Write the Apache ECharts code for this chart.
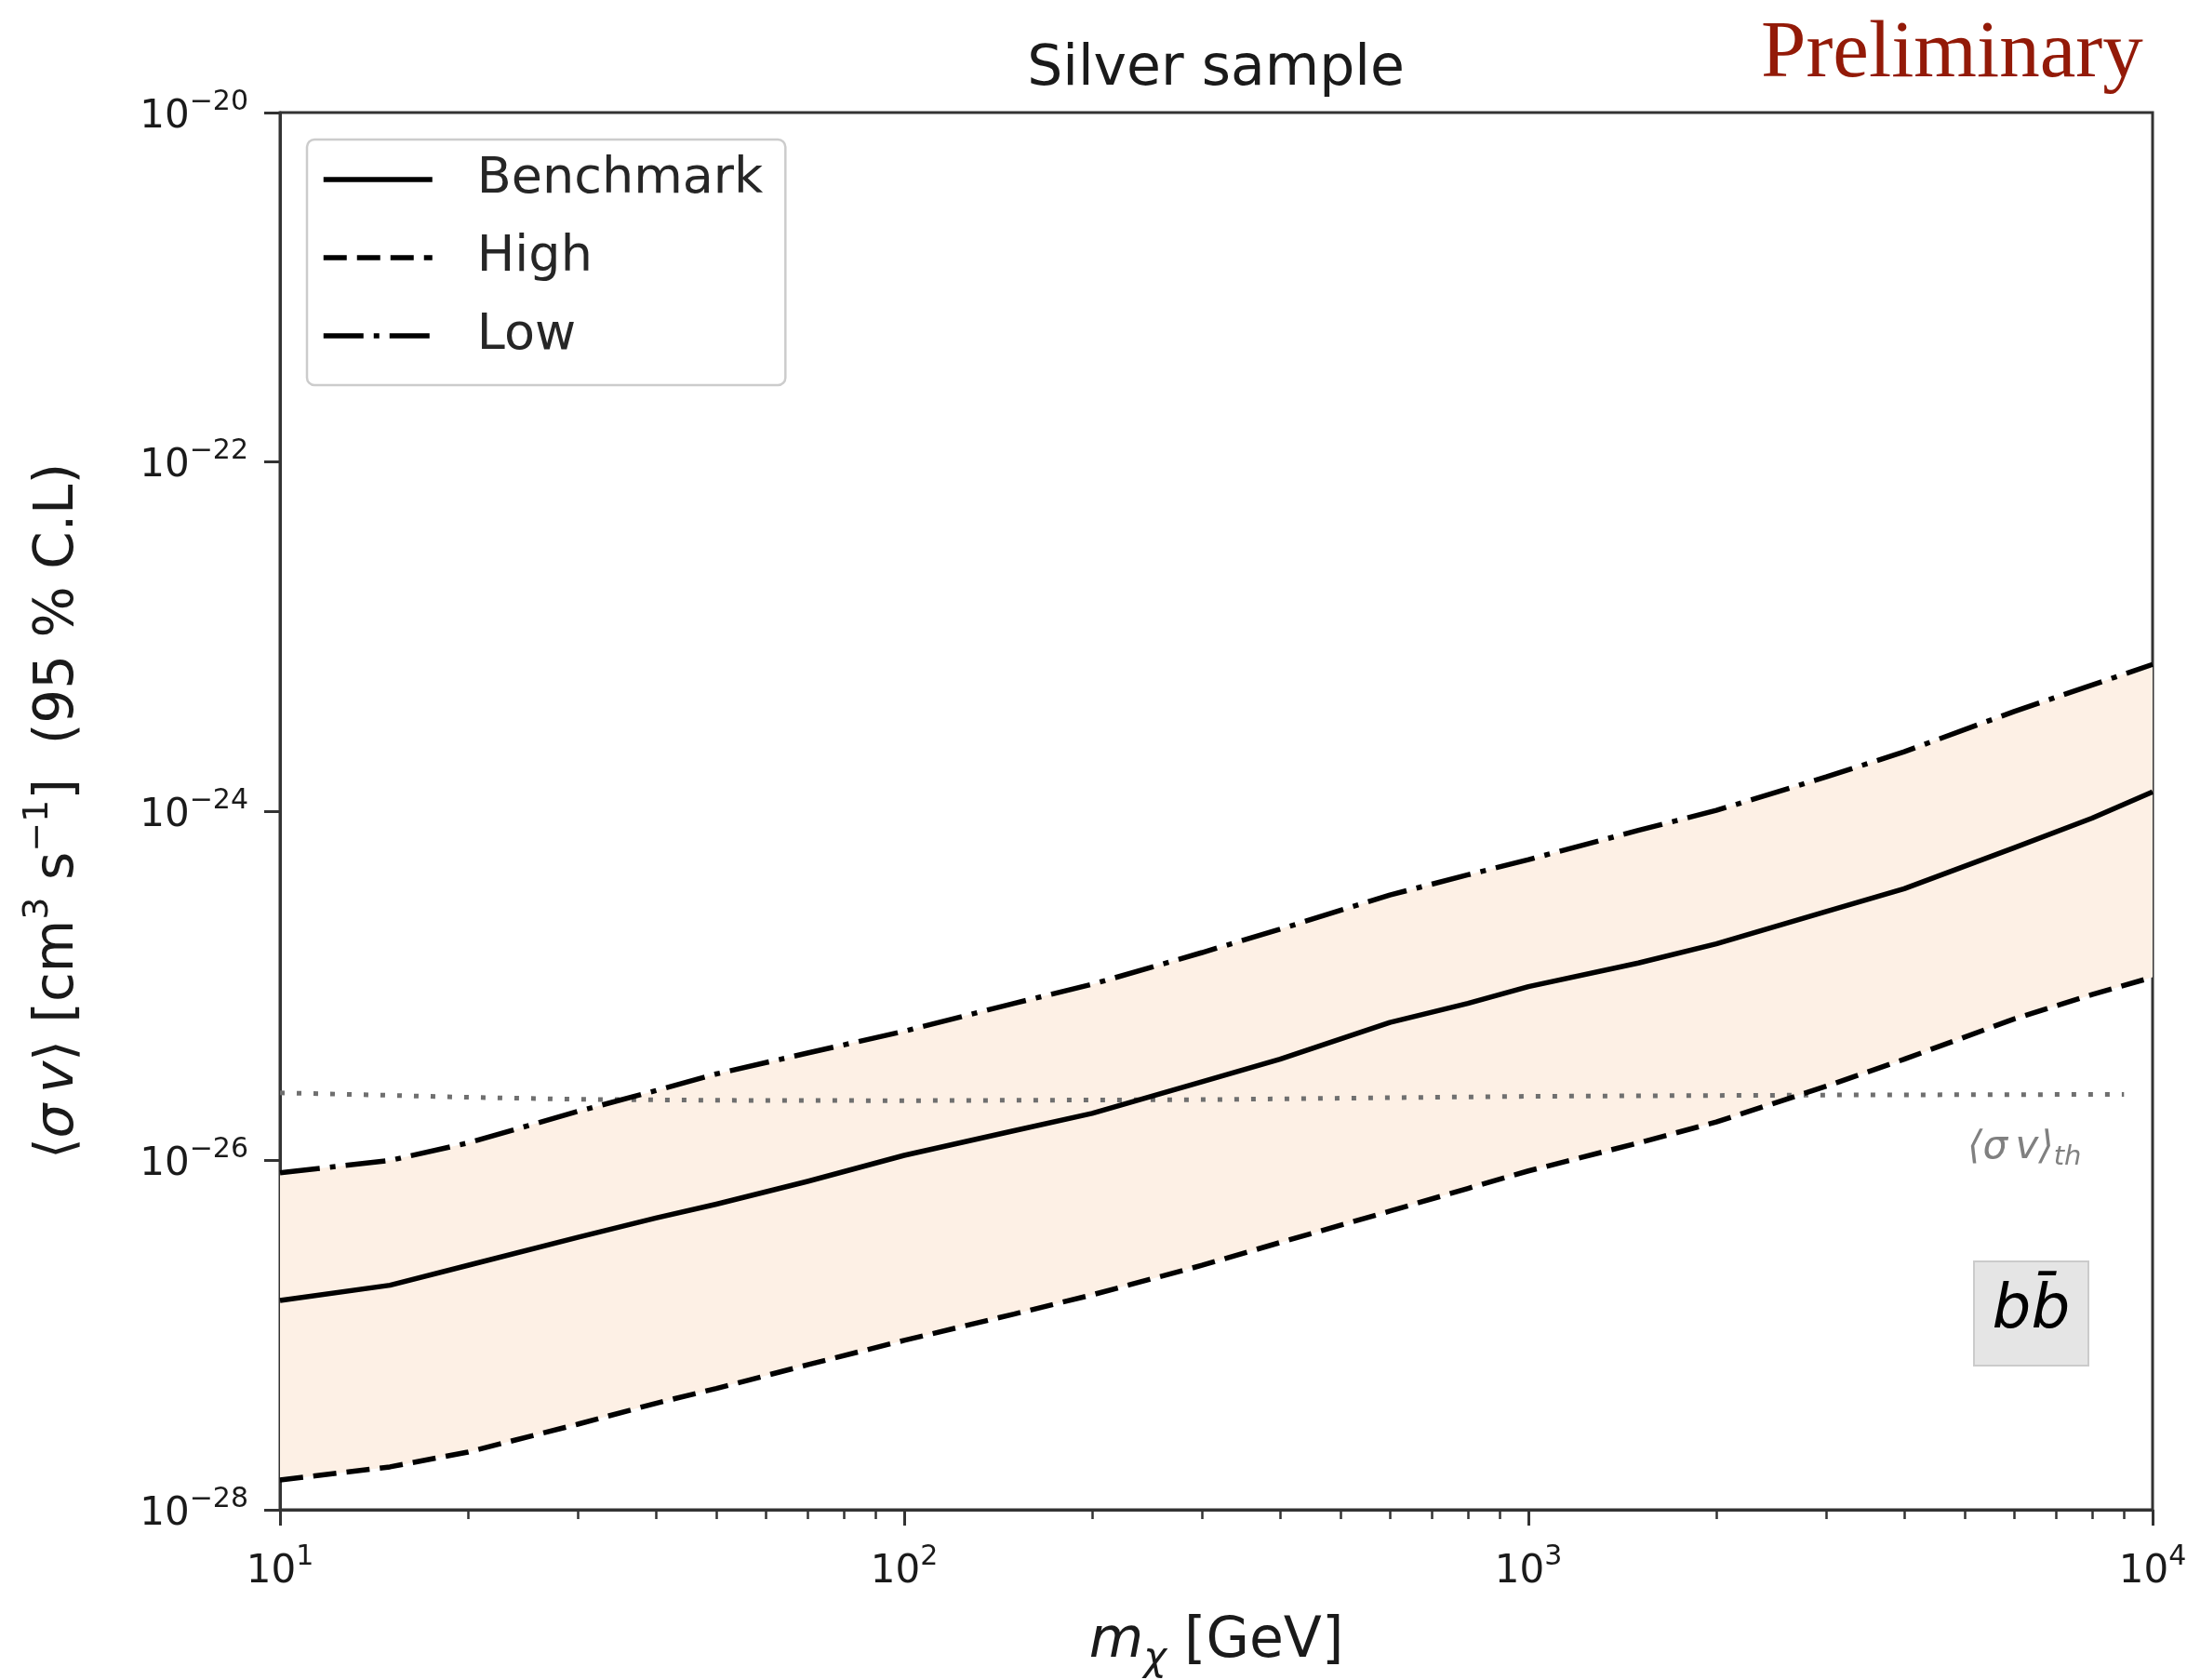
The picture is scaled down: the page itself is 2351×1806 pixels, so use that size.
<!DOCTYPE html>
<html>
<head>
<meta charset="utf-8">
<script src="https://cdn.jsdelivr.net/npm/echarts@6/dist/echarts.min.js"></script>
<style>
html, body { margin: 0; padding: 0; background: #ffffff; }
#chart { width: 2351px; height: 1806px; }
</style>
</head>
<body>
<div id="chart"></div>
<script>
// ---- Data ----
const masses = [10, 15, 20, 30, 40, 50, 70, 100, 150, 200, 300, 400, 600, 800, 1000, 1500, 2000, 3000, 4000, 6000, 8000, 10000];
const benchmark = [1.58e-27, 1.93e-27, 2.51e-27, 3.63e-27, 4.68e-27, 5.62e-27, 7.59e-27, 1.07e-26, 1.48e-26, 1.86e-26, 2.82e-26, 3.80e-26, 6.17e-26, 7.94e-26, 9.9e-26, 1.35e-25, 1.74e-25, 2.66e-25, 3.60e-25, 6.17e-25, 9.12e-25, 1.29e-24];
const high = [1.48e-28, 1.76e-28, 2.14e-28, 3.09e-28, 4.07e-28, 4.95e-28, 6.76e-28, 9.33e-28, 1.32e-27, 1.70e-27, 2.51e-27, 3.39e-27, 5.13e-27, 6.92e-27, 8.71e-27, 1.26e-26, 1.66e-26, 2.66e-26, 3.80e-26, 6.46e-26, 8.91e-26, 1.12e-25];
const low = [8.51e-27, 1.00e-26, 1.26e-26, 1.91e-26, 2.51e-26, 3.13e-26, 4.12e-26, 5.50e-26, 7.94e-26, 1.02e-25, 1.55e-25, 2.11e-25, 3.31e-25, 4.32e-25, 5.28e-25, 7.76e-25, 1.01e-24, 1.57e-24, 2.19e-24, 3.72e-24, 5.28e-24, 6.92e-24];
const thermalMasses = [10, 15, 20, 30, 50, 100, 300, 1000, 3000, 9000];
const thermalValues = [2.44e-26, 2.36e-26, 2.30e-26, 2.24e-26, 2.21e-26, 2.20e-26, 2.23e-26, 2.33e-26, 2.37e-26, 2.39e-26];
const seriesNames = ['Benchmark', 'High', 'Low'];
const xRange = [10, 10000];
const yExpRange = [-28, -20];   // decades shown on the y axis
const yExpStep = 2;             // labelled every 2 decades

// ---- Styling helpers ----
const FONT = '"DejaVu Sans", sans-serif';
const TXT = '#1a1a1a';
const AX = '#333333';
const LW = 5.5;

const tickRich = {
  b: { fontFamily: FONT, fontSize: 42, lineHeight: 52, verticalAlign: 'bottom', color: TXT },
  s: { fontFamily: FONT, fontSize: 30, verticalAlign: 'top', color: TXT }
};
function powLabel(exp) {
  return '{b|10}{s|' + (exp < 0 ? '\u2212' : '') + Math.abs(exp) + '}';
}
const pairs = (xs, ys) => xs.map((x, i) => [x, ys[i]]);

const chart = echarts.init(document.getElementById('chart'), null, { renderer: 'canvas', width: 2351, height: 1806 });

const option = {
  animation: false,
  backgroundColor: '#ffffff',
  grid: {
    left: 301, top: 121, width: 2013, height: 1502,
    show: true, borderColor: AX, borderWidth: 3, backgroundColor: 'transparent',
    containLabel: false, outerBoundsMode: 'none'
  },
  legend: {
    data: seriesNames,
    orient: 'vertical',
    left: 330, top: 150,
    itemWidth: 117, itemHeight: 4, itemGap: 22,
    padding: [12, 24, 22, 15],
    backgroundColor: '#ffffff',
    borderColor: '#cccccc', borderWidth: 2.5, borderRadius: 8,
    selectedMode: false,
    itemStyle: { opacity: 0 },
    lineStyle: { width: LW },
    textStyle: { fontFamily: FONT, fontSize: 54, color: '#262626', lineHeight: 62, padding: [0, 0, 0, 43] }
  },
  xAxis: {
    type: 'log', logBase: 10, min: xRange[0], max: xRange[1],
    position: 'bottom',
    axisLine: { show: true, lineStyle: { color: AX, width: 3 } },
    axisTick: { show: true, inside: false, length: 17, lineStyle: { color: AX, width: 3 } },
    minorTick: { show: true, splitNumber: 9, length: 10, lineStyle: { color: AX, width: 2.5 } },
    splitLine: { show: false },
    minorSplitLine: { show: false },
    axisLabel: {
      margin: 36,
      formatter: v => powLabel(Math.round(Math.log10(v))),
      rich: tickRich
    },
    name: '{it|m}{sub|\u03C7}{n| [GeV]}',
    nameLocation: 'middle',
    nameGap: 112,
    nameTextStyle: {
      fontFamily: FONT, fontSize: 60, color: TXT,
      rich: {
        it: { fontFamily: FONT, fontStyle: 'italic', fontSize: 60, verticalAlign: 'top', color: TXT },
        n: { fontFamily: FONT, fontSize: 60, verticalAlign: 'top', color: TXT },
        sub: { fontFamily: FONT, fontStyle: 'italic', fontSize: 42, lineHeight: 70, verticalAlign: 'bottom', color: TXT }
      }
    }
  },
  yAxis: [
    {
      // data axis (logarithmic)
      type: 'log', logBase: 10, min: Math.pow(10, yExpRange[0]), max: Math.pow(10, yExpRange[1]),
      position: 'left',
      axisLine: { show: false },
      axisTick: { show: false },
      axisLabel: { show: false },
      splitLine: { show: false }
    },
    {
      // decade axis carrying ticks, labels and name (same positions as the log axis)
      type: 'value', min: yExpRange[0], max: yExpRange[1], interval: yExpStep,
      position: 'left',
      axisLine: { show: true, lineStyle: { color: AX, width: 3 } },
      axisTick: { show: true, inside: false, length: 17, lineStyle: { color: AX, width: 3 } },
      splitLine: { show: false },
      axisLabel: {
        margin: 34,
        formatter: v => powLabel(Math.round(v)),
        rich: tickRich
      },
      name: '{n|\u27E8}{it|\u03C3\u2009v}{n|\u27E9 [cm}{sup|3}{n| s}{sup|\u22121}{n|]  (95 % C.L)}',
      nameLocation: 'middle',
      nameGap: 209,
      nameTextStyle: {
        fontFamily: FONT, fontSize: 58, color: TXT,
        rich: {
          n: { fontFamily: FONT, fontSize: 58, lineHeight: 70, verticalAlign: 'bottom', color: TXT },
          it: { fontFamily: FONT, fontStyle: 'italic', fontSize: 58, lineHeight: 70, verticalAlign: 'bottom', color: TXT },
          sup: { fontFamily: FONT, fontSize: 38, verticalAlign: 'top', color: TXT }
        }
      }
    }
  ],
  series: [
    {
      // shaded band between High and Low, drawn through the axes' scales
      name: 'band', type: 'custom', yAxisIndex: 0, silent: true, clip: true, z: 1,
      data: masses.map((m, i) => [m, low[i], high[i]]),
      encode: { x: 0, y: [1, 2] },
      renderItem: function (params, api) {
        if (params.dataIndex !== 0) return null;
        const upper = masses.map((m, i) => api.coord([m, low[i]]));
        const lower = masses.map((m, i) => api.coord([m, high[i]])).reverse();
        return { type: 'polygon', shape: { points: upper.concat(lower) }, style: { fill: '#fdf0e5' } };
      }
    },
    {
      name: 'thermal', type: 'line', yAxisIndex: 0, silent: true,
      data: pairs(thermalMasses, thermalValues), symbol: 'none',
      lineStyle: { color: '#6f6f6f', width: 5, type: [5, 13] }, z: 2
    },
    {
      name: 'Benchmark', type: 'line', yAxisIndex: 0,
      data: pairs(masses, benchmark), symbol: 'none',
      lineStyle: { color: '#000000', width: LW, type: 'solid', join: 'round' }, z: 3
    },
    {
      name: 'High', type: 'line', yAxisIndex: 0,
      data: pairs(masses, high), symbol: 'none',
      lineStyle: { color: '#000000', width: LW, type: [25, 11] }, z: 3
    },
    {
      name: 'Low', type: 'line', yAxisIndex: 0,
      data: pairs(masses, low), symbol: 'none',
      lineStyle: { color: '#000000', width: LW, type: [43, 11, 6, 11] }, z: 3
    }
  ],
  graphic: [
    {
      type: 'text', x: 1307, y: 75, z: 10,
      style: { text: 'Silver sample', font: '60px "DejaVu Sans"', fill: TXT,
        align: 'center', verticalAlign: 'middle', textAlign: 'center', textVerticalAlign: 'middle' }
    },
    {
      type: 'text', x: 1893, y: 59, z: 10,
      style: { text: 'Preliminary', font: '87px "Liberation Serif"', fill: '#931a08',
        align: 'left', verticalAlign: 'middle', textAlign: 'left', textVerticalAlign: 'middle' }
    },
    {
      type: 'text', x: 2115, y: 1213, z: 10,
      style: {
        text: '{m|\u27E8\u03C3\u2009v\u27E9}{sub|th}',
        align: 'left', verticalAlign: 'top', textAlign: 'left', textVerticalAlign: 'top',
        rich: {
          m: { font: 'italic 42px "DejaVu Sans"', fill: '#808080', verticalAlign: 'top' },
          sub: { font: 'italic 29px "DejaVu Sans"', fill: '#808080', lineHeight: 46, verticalAlign: 'bottom' }
        }
      }
    },
    {
      type: 'rect', z: 10,
      shape: { x: 2122, y: 1356, width: 123, height: 112 },
      style: { fill: '#e5e5e5', stroke: '#cbcbcb', lineWidth: 2 }
    },
    {
      type: 'text', x: 2183.5, y: 1410, z: 11,
      style: { text: 'bb\u0304', font: 'italic 66px "DejaVu Sans"', fill: '#000000',
        align: 'center', verticalAlign: 'middle', textAlign: 'center', textVerticalAlign: 'middle' }
    }
  ]
};

chart.setOption(option);
</script>
</body>
</html>
